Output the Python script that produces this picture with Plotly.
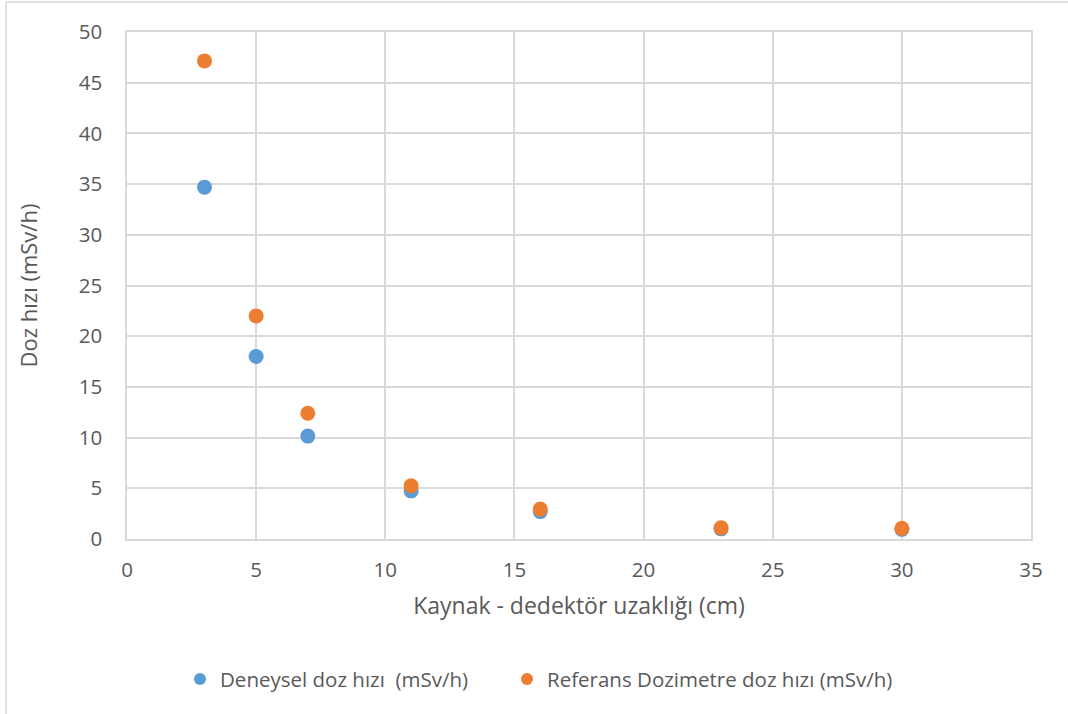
import plotly.graph_objects as go

# Source-detector distance (cm)
distance_cm = [3, 5, 7, 11, 16, 23, 30]

# Dose rates (mSv/h)
experimental_rate = [34.7, 18.0, 10.15, 4.75, 2.7, 1.0, 0.95]
reference_rate = [47.15, 22.0, 12.4, 5.25, 2.95, 1.1, 1.05]

series_names = [
    "Deneysel doz hızı\u00a0 (mSv/h)",
    "Referans Dozimetre doz hızı (mSv/h)",
]
series_colors = ["#5B9BD5", "#ED7D31"]

x_ticks = [0, 5, 10, 15, 20, 25, 30, 35]
y_ticks = [0, 5, 10, 15, 20, 25, 30, 35, 40, 45, 50]

FONT = "'Open Sans', Lato, sans-serif"
TEXT_COLOR = "#595959"
GRID = "#D9D9D9"

W, H = 1068, 714
L, R, T, B = 127, 37, 32, 175
pw, ph = W - L - R, H - T - B

fig = go.Figure()
legend_ids = ["legend", "legend2"]
for name, values, color, lg in zip(series_names, [experimental_rate, reference_rate],
                                    series_colors, legend_ids):
    fig.add_trace(go.Scatter(
        x=distance_cm, y=values, mode="markers", name=name, legend=lg,
        marker=dict(size=15, color=color, line=dict(width=0)),
    ))

# Outer chart frame (left and top edges)
fx = (6 - L) / pw
fy = (H - B - 2) / ph
fig.add_shape(type="line", xref="paper", yref="paper", x0=fx, x1=fx, y0=-0.5, y1=fy,
              line=dict(color=GRID, width=1.5))
fig.add_shape(type="line", xref="paper", yref="paper", x0=fx, x1=1.2, y0=fy, y1=fy,
              line=dict(color=GRID, width=1.5))

legend_style = dict(orientation="h", xanchor="left", y=-0.237, yanchor="top",
                    font=dict(size=20.5, color=TEXT_COLOR), itemsizing="constant",
                    itemwidth=30, bgcolor="rgba(0,0,0,0)")

fig.update_layout(
    width=W, height=H,
    margin=dict(l=L, r=R, t=T, b=B),
    paper_bgcolor="white", plot_bgcolor="white",
    font=dict(family=FONT, color=TEXT_COLOR, size=20),
    showlegend=True,
    legend=dict(x=(180 - L) / pw, **legend_style),
    legend2=dict(x=(507 - L) / pw, **legend_style),
    xaxis=dict(
        range=[0, 35], tickvals=x_ticks, showgrid=True, gridcolor=GRID, gridwidth=1.5,
        zeroline=False, showline=True, linecolor=GRID, linewidth=1.5, mirror=True,
        ticks="", ticklabelstandoff=12, tickfont=dict(size=20.5, color=TEXT_COLOR),
        title=dict(text="Kaynak - dedektör uzaklığı (cm)", font=dict(size=23, color=TEXT_COLOR), standoff=16),
    ),
    yaxis=dict(
        range=[0, 50], tickvals=y_ticks, showgrid=True, gridcolor=GRID, gridwidth=1.5,
        zeroline=False, showline=True, linecolor=GRID, linewidth=1.5, mirror=True,
        ticks="", ticklabelstandoff=19, tickfont=dict(size=20.5, color=TEXT_COLOR),
        title=dict(text="Doz hızı (mSv/h)", font=dict(size=22, color=TEXT_COLOR), standoff=35),
    ),
)

fig.write_html("out.html")
